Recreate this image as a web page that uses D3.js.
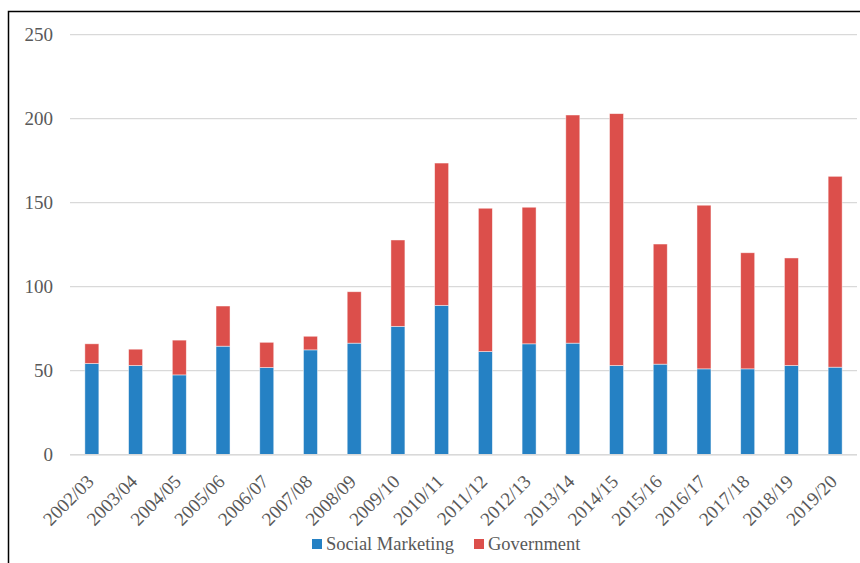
<!DOCTYPE html>
<html><head><meta charset="utf-8">
<script src="https://cdn.jsdelivr.net/npm/d3@7"></script>
<style>body{margin:0;background:#fff}svg{display:block}text{font-family:"Liberation Serif",serif;fill:#595959}</style>
</head><body><svg id="c" width="860" height="563"></svg>
<script>
const categories = ["2002/03","2003/04","2004/05","2005/06","2006/07","2007/08","2008/09","2009/10","2010/11","2011/12","2012/13","2013/14","2014/15","2015/16","2016/17","2017/18","2018/19","2019/20"];
const socialMarketing = [54.3,53.1,47.5,64.6,51.9,62.4,66.4,76.4,88.9,61.4,66,66.4,53.1,53.9,51.1,51.1,53.1,52.1];
const government = [11.7,9.7,20.7,23.9,15,8.1,30.6,51.4,84.7,85.3,81.3,135.8,149.9,71.5,97.4,69.1,64,113.6];
const yTicks = [0,50,100,150,200,250];
const seriesNames = ["Social Marketing","Government"];
const colors = ["#2581C4","#DC4F4B"];

const svg = d3.select("#c");
svg.append("rect").attr("x",8.5).attr("y",11.5).attr("width",900).attr("height",600).attr("fill","none").attr("stroke","#000").attr("stroke-width",1.5);

const x = d3.scaleBand().domain(categories).range([70,857]).paddingInner(0.68).paddingOuter(0.34);
const y = d3.scaleLinear().domain([0,250]).range([454.7,34.7]);

// gridlines
svg.append("g").selectAll("line").data(yTicks).join("line")
  .attr("x1",70).attr("x2",857).attr("y1",d=>y(d)).attr("y2",d=>y(d))
  .attr("stroke","#D9D9D9").attr("stroke-width",1.3);

// y axis labels
const yAxis = d3.axisLeft(y).tickValues(yTicks).tickSize(0).tickPadding(0);
const ya = svg.append("g").attr("transform","translate(53,0)").call(yAxis);
ya.select(".domain").remove();
ya.selectAll("text").attr("font-size",19).attr("dy","0.32em");

const data = categories.map((c,i)=>({cat:c, sm:socialMarketing[i], gov:government[i]}));
const stack = d3.stack().keys(["sm","gov"])(data);
svg.append("g").selectAll("g").data(stack).join("g").attr("fill",(d,i)=>colors[i])
  .selectAll("rect").data(d=>d).join("rect")
  .attr("x",d=>x(d.data.cat)).attr("width",x.bandwidth())
  .attr("y",d=>y(d[1])).attr("height",d=>y(d[0])-y(d[1]))
  .attr("stroke","#fff").attr("stroke-width",0.75).attr("stroke-opacity",0.6);

// x axis line
svg.append("line").attr("x1",70).attr("x2",857).attr("y1",y(0)).attr("y2",y(0)).attr("stroke","#D9D9D9").attr("stroke-width",1.5);

// x labels
const xAxis = d3.axisBottom(x).tickSize(0).tickPadding(0);
const xa = svg.append("g").attr("transform",`translate(0,${y(0)})`).call(xAxis);
xa.select(".domain").remove();
xa.selectAll("text").attr("font-size",19)
  .attr("text-anchor","end").attr("dy",null).attr("y",0)
  .attr("transform","translate(3,28) rotate(-45)");

// legend
const lg = svg.append("g");
const lx = [312,474];
seriesNames.forEach((n,i)=>{
  lg.append("rect").attr("x",lx[i]).attr("y",539).attr("width",10).attr("height",10).attr("fill",colors[i]);
  lg.append("text").attr("x",lx[i]+14).attr("y",549.5).attr("font-size",18.5).text(n);
});
</script></body></html>
